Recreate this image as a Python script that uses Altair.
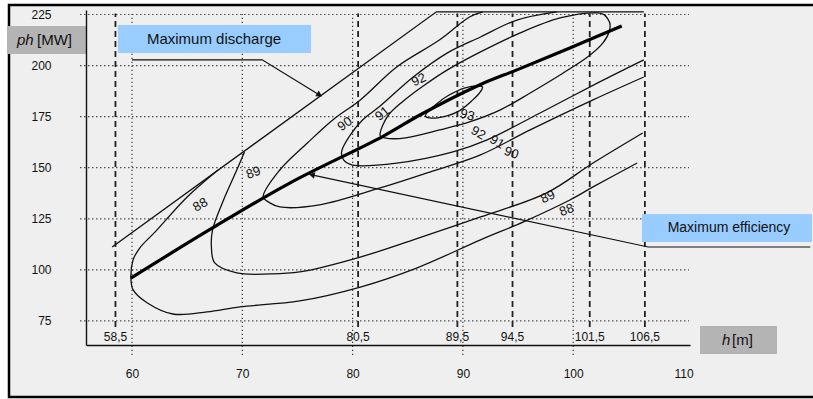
import altair as alt
import pandas as pd

# ---- Turbine hill chart: head h [m] against power ph [MW], efficiency contours in % ----

# efficiency contour 88 %
c88_h = [67.8, 65.0, 62.1, 60.7, 60.1, 59.9, 60.1, 61.4, 63.7, 66.8, 69.8, 75.2, 80.7, 85.8, 91.6, 95.5, 99.7, 101.8, 105.8]
c88_p = [148.9, 135.7, 118.6, 110.7, 104.9, 96.0, 90.2, 83.8, 78.4, 79.4, 81.9, 84.8, 91.6, 100.9, 114.7, 123.5, 134.2, 140.6, 152.3]
# 89 %
c89_h = [70.2, 69.5, 68.3, 67.3, 67.2, 67.5, 69.5, 72.5, 75.2, 80.7, 85.5, 91.6, 97.6, 101.8, 106.3]
c89_p = [157.7, 148.9, 134.2, 119.5, 111.2, 103.4, 98.5, 98.0, 99.0, 106.3, 114.7, 125.9, 137.7, 152.3, 167.0]
# 90 %
c90_h = [91.8, 90.6, 87.9, 84.0, 80.7, 78.2, 75.9, 73.4, 71.9, 72.5, 73.4, 77.0, 82.5, 87.0, 91.6, 96.1, 101.8, 106.4]
c90_p = [226.3, 223.8, 212.6, 199.3, 183.2, 173.4, 162.1, 148.9, 135.7, 132.8, 130.8, 131.8, 140.1, 147.9, 156.3, 168.5, 183.2, 194.4]
# 91 %
c91_h = [98.5, 94.9, 91.6, 88.6, 85.5, 82.5, 80.9, 79.8, 79.0, 79.2, 80.0, 84.0, 89.1, 92.2, 97.0, 102.4, 106.4]
c91_p = [226.3, 222.3, 214.0, 206.2, 194.4, 180.2, 173.4, 166.1, 157.7, 153.7, 151.3, 152.2, 157.7, 163.6, 176.8, 192.0, 202.8]
# 92 % (closed)
c92_h = [82.5, 83.2, 84.5, 86.4, 88.6, 91.6, 95.2, 98.8, 102.2, 103.2, 103.3, 102.7, 101.3, 99.1, 96.1, 93.4, 90.6, 87.9, 84.8, 82.9]
c92_p = [167.0, 175.4, 182.2, 190.0, 197.9, 206.7, 216.0, 223.3, 225.8, 222.3, 217.4, 211.1, 204.2, 196.4, 186.6, 178.3, 172.4, 168.5, 164.6, 164.6]
# 93 % (closed)
c93_h = [86.6, 87.5, 88.6, 90.2, 91.6, 91.7, 90.9, 89.5, 87.7]
c93_p = [175.4, 180.7, 185.1, 189.1, 190.0, 188.1, 183.2, 177.3, 174.4]

# maximum efficiency line
eff_h = [59.9, 67.3, 74.3, 82.8, 86.1, 91.5, 94.9, 99.7, 104.4]
eff_p = [96.0, 120.5, 142.5, 165.5, 175.8, 190.5, 197.9, 208.6, 219.4]

# maximum discharge line and the power limit along the top
lim_h = [58.2, 87.6, 106.4]
lim_p = [111.2, 226.3, 226.3]

# contour labels
lab_text = ["88", "89", "90", "91", "92", "93", "92", "91", "90", "89", "88"]
lab_h = [66.2, 71.0, 79.3, 82.7, 86.0, 90.4, 91.4, 93.1, 94.4, 97.7, 99.4]
lab_p = [131.8, 147.5, 171.4, 176.5, 193.0, 175.8, 167.0, 162.6, 157.2, 135.7, 129.3]

# reference heads (dashed) and their labels
ref_h = [58.5, 80.5, 89.5, 94.5, 101.5, 106.5]

# grid values and tick labels
tick_h = [60, 70, 80, 90, 100, 110]
grid_h = [60, 70, 80, 90, 100]
tick_p = [75, 100, 125, 150, 175, 200, 225]

# annotation arrows (drawn in data units)
arr_dis_h = [60.0, 71.8, 77.0]
arr_dis_p = [202.8, 202.8, 185.6]
arr_eff_h = [121.5, 106.8, 76.3]
arr_eff_p = [111.2, 111.2, 146.5]

FONT = "Liberation Sans"
INK = "#111111"

XS = alt.Scale(domain=[55.83, 110.59], nice=False, zero=False)
YS = alt.Scale(domain=[63.23, 227.2], nice=False, zero=False)
XAXIS = alt.Axis(values=tick_h, title=None, grid=False, ticks=False, domain=True,
                 domainColor=INK, domainWidth=1.4, labelPadding=23, labelFontSize=12,
                 labelFont=FONT, labelColor=INK, labelFlush=False, labelOverlap=False, zindex=1)
YAXIS = alt.Axis(values=tick_p, title=None, grid=False, ticks=False, domain=True,
                 domainColor=INK, domainWidth=1.4, labelPadding=35, labelFontSize=12,
                 labelFont=FONT, labelColor=INK, labelFlush=False, labelOverlap=False, zindex=1)


def X(f):
    return alt.X(f, type="quantitative", scale=XS, axis=XAXIS)


def Y(f):
    return alt.Y(f, type="quantitative", scale=YS, axis=YAXIS)


def path(name, hs, ps):
    return pd.DataFrame({"curve": name, "h": hs, "ph": ps, "seq": list(range(len(hs)))})


one = pd.DataFrame({"k": [0]})

# panel background with its black border
frame = alt.Chart(one).mark_rect(fill="#efefef", stroke="#000000", strokeWidth=2.5).encode(
    x=alt.value(-77), x2=alt.value(740), y=alt.value(-5), y2=alt.value(387))

# dotted grid
hgrid = alt.Chart(pd.DataFrame({"ph": tick_p})).mark_rule(
    color="#333333", strokeWidth=1.2, strokeDash=[1.3, 2.7]).encode(
    y=Y("ph"), x=alt.XDatum(55.3, scale=XS, axis=XAXIS), x2=alt.X2Datum(110.5))
vgrid = alt.Chart(pd.DataFrame({"h": grid_h})).mark_rule(
    color="#333333", strokeWidth=1.2, strokeDash=[1.3, 2.7]).encode(
    x=X("h"), y=alt.YDatum(58.3, scale=YS, axis=YAXIS), y2=alt.Y2Datum(225.3))
# dashed reference heads
vdash = alt.Chart(pd.DataFrame({"h": ref_h})).mark_rule(
    color="#222222", strokeWidth=1.8, strokeDash=[6, 4]).encode(
    x=X("h"), y=alt.YDatum(72.0, scale=YS, axis=YAXIS), y2=alt.Y2Datum(225.5))
ref_lab = alt.Chart(pd.DataFrame({"h": ref_h, "t": [f"{v:g}".replace(".", ",") for v in ref_h]})).mark_text(
    font=FONT, fontSize=12, color=INK, baseline="middle").encode(
    x=X("h"), y=alt.YDatum(67.0, scale=YS, axis=YAXIS), text="t:N")

open_df = pd.concat([path("88", c88_h, c88_p), path("89", c89_h, c89_p),
                     path("90", c90_h, c90_p), path("91", c91_h, c91_p)])
closed_df = pd.concat([path("92", c92_h, c92_p), path("93", c93_h, c93_p)])

open_lines = alt.Chart(open_df).mark_line(interpolate="catmull-rom", color=INK, strokeWidth=1.3).encode(
    x=X("h"), y=Y("ph"), detail="curve:N", order="seq:Q")
closed_lines = alt.Chart(closed_df).mark_line(interpolate="cardinal-closed", color=INK, strokeWidth=1.3).encode(
    x=X("h"), y=Y("ph"), detail="curve:N", order="seq:Q")

limit = alt.Chart(path("lim", lim_h, lim_p)).mark_line(color=INK, strokeWidth=1.3).encode(
    x=X("h"), y=Y("ph"), order="seq:Q")
eff = alt.Chart(path("eff", eff_h, eff_p)).mark_line(interpolate="catmull-rom", color="#000000", strokeWidth=3.2).encode(
    x=X("h"), y=Y("ph"), order="seq:Q")

arrows = alt.Chart(pd.concat([path("dis", arr_dis_h, arr_dis_p), path("eff", arr_eff_h, arr_eff_p)])).mark_line(
    color=INK, strokeWidth=1.2).encode(x=X("h"), y=Y("ph"), detail="curve:N", order="seq:Q")
head_dis = alt.Chart(pd.DataFrame({"h": arr_dis_h[-1:], "ph": arr_dis_p[-1:]})).mark_point(
    shape="triangle-right", filled=True, size=45, color=INK, opacity=1, angle=31).encode(x=X("h"), y=Y("ph"))
head_eff = alt.Chart(pd.DataFrame({"h": arr_eff_h[-1:], "ph": arr_eff_p[-1:]})).mark_point(
    shape="triangle-right", filled=True, size=45, color=INK, opacity=1, angle=192).encode(x=X("h"), y=Y("ph"))

# contour labels, each at its own slant
label_angles = [330, 340, 325, 320, 335, 15, 30, 30, 20, 335, 340]
labels = []
for t, h, p, a in zip(lab_text, lab_h, lab_p, label_angles):
    labels.append(alt.Chart(pd.DataFrame({"h": [h], "ph": [p], "t": [t]})).mark_text(
        font=FONT, fontSize=13, color=INK, angle=a, baseline="middle").encode(x=X("h"), y=Y("ph"), text="t:N"))


def box(x0, x1, y0, y1, fill):
    return alt.Chart(one).mark_rect(fill=fill).encode(
        x=alt.value(x0), x2=alt.value(x1), y=alt.value(y0), y2=alt.value(y1))


def note(txt, x, y, size, align="center", style="normal"):
    return alt.Chart(one).mark_text(font=FONT, fontSize=size, color=INK, align=align,
                                     baseline="middle", fontStyle=style).encode(
        x=alt.value(x), y=alt.value(y), text=alt.value(txt))


boxes = [
    box(-79, 1, 16, 44, "#b4b4b4"),
    note("ph", -69, 30, 15, "left", "italic"),
    note("[MW]", -49, 30, 15, "left"),
    box(32, 225, 15, 43, "#99ccff"),
    note("Maximum discharge", 128, 29, 15),
    box(556, 726, 204, 232, "#99ccff"),
    note("Maximum efficiency", 643, 218, 14),
    box(614, 691, 316, 344, "#b4b4b4"),
    note("h", 636, 330, 15, "left", "italic"),
    note("[m]", 646, 330, 15, "left"),
]

chart = alt.layer(
    frame, hgrid, vgrid, vdash, ref_lab, open_lines, closed_lines, limit, eff,
    arrows, head_dis, head_eff, *labels, *boxes
).properties(
    width=604, height=335,
    padding={"left": 86, "top": 10, "right": 123, "bottom": 54},
    autosize=alt.AutoSizeParams(type="none"),
    background="white",
).configure_view(stroke=None)

chart.save("out.html", embed_options={"renderer": "svg", "actions": False})
